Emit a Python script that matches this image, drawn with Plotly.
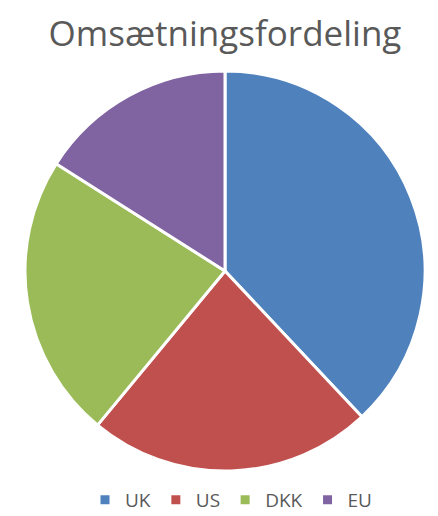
import plotly.graph_objects as go

categories = ["UK", "US", "DKK", "EU"]
values = [38, 23, 23, 16]
colors = ["#4F81BD", "#C0504D", "#9BBB59", "#8064A2"]

W, H = 438, 516
OFF = 8  # page body margin offset

def px(x):
    return (x - OFF) / W

def py(y):
    return 1 - (y - OFF) / H

cx, cy, r = 225, 271, 200

fig = go.Figure(go.Pie(
    labels=categories,
    values=values,
    sort=False,
    direction="clockwise",
    rotation=0,
    textinfo="none",
    hoverinfo="label+percent",
    marker=dict(colors=colors, line=dict(color="white", width=3)),
    domain=dict(x=[px(cx - r), px(cx + r)], y=[py(cy + r), py(cy - r)]),
))

fig.update_layout(
    width=W, height=H,
    margin=dict(l=0, r=0, t=0, b=0),
    paper_bgcolor="white",
    plot_bgcolor="white",
    title=dict(text="Omsætningsfordeling", x=px(225), xanchor="center",
               y=py(34), yanchor="middle",
               font=dict(family="Open Sans", size=35, color="#595959")),
    showlegend=True,
    legend=dict(orientation="h", x=px(231), xanchor="center",
                y=py(500), yanchor="middle",
                font=dict(family="Open Sans", size=19, color="#595959"),
                itemwidth=30, traceorder="normal"),
)

fig.write_html("out.html")
